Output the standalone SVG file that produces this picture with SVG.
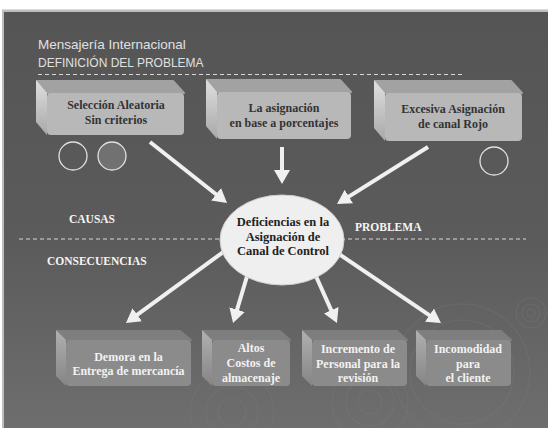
<svg xmlns="http://www.w3.org/2000/svg" width="548" height="428" viewBox="0 0 548 428">
<defs>
<linearGradient id="bg" x1="0" y1="0" x2="0" y2="1">
<stop offset="0" stop-color="#555555"/>
<stop offset="0.55" stop-color="#5b5b5b"/>
<stop offset="1" stop-color="#6e6e6e"/>
</linearGradient>
<linearGradient id="leftT" x1="0" y1="0" x2="0" y2="1">
<stop offset="0" stop-color="#e0e0e0"/>
<stop offset="1" stop-color="#a8a8a8"/>
</linearGradient>
<linearGradient id="leftB" x1="0" y1="0" x2="0" y2="1">
<stop offset="0" stop-color="#b0b0b0"/>
<stop offset="1" stop-color="#858585"/>
</linearGradient>
<marker id="ah" markerUnits="userSpaceOnUse" viewBox="0 0 14 16" markerWidth="14" markerHeight="16" refX="10" refY="8" orient="auto">
<path d="M0,0 L14,8 L0,16 z" fill="#f0f0f0"/>
</marker>
</defs>
<style>
.ttl{font-family:"Liberation Sans",Arial,sans-serif;fill:#e0e0e0}
.lbl{font-family:"Liberation Serif","Times New Roman",serif;font-weight:bold;font-size:11.5px;fill:#f5f5f5}
.tt{font-family:"Liberation Serif","Times New Roman",serif;font-weight:bold;font-size:12px;fill:#333333;text-anchor:middle}
.bt{font-family:"Liberation Serif","Times New Roman",serif;font-weight:bold;font-size:12px;fill:#f2f2f2;text-anchor:middle}
.ct{font-family:"Liberation Serif","Times New Roman",serif;font-weight:bold;font-size:12.5px;fill:#222222;text-anchor:middle}
.dash{stroke:#d8d8d8;stroke-width:1;stroke-dasharray:4 3;fill:none}
.tf{fill:#a2a2a2;stroke:#a2a2a2;stroke-width:2;stroke-linejoin:round}
.lf{fill:url(#leftT);stroke-linejoin:round}
.ff{fill:#b8b8b8}
.tfb{fill:#7e7e7e;stroke:#7e7e7e;stroke-width:2;stroke-linejoin:round}
.lfb{fill:url(#leftB)}
.ffb{fill:#8b8b8b}
.arr{stroke:#f0f0f0;stroke-width:4;fill:none;marker-end:url(#ah)}
.ring{fill:none;stroke:#7c7c7c;stroke-opacity:0.35;stroke-width:1.2}
.circ{fill:none;stroke:#e0e0e0;stroke-width:1.3}
.circf{fill:#717171;stroke:#e0e0e0;stroke-width:1.3}
</style>
<rect x="0" y="0" width="548" height="428" fill="#ffffff"/>
<rect x="2" y="9.5" width="546" height="418.5" fill="#bdbdbd"/>
<rect x="4" y="12" width="544" height="416" fill="url(#bg)"/>
<g id="decor">
<circle class="ring" cx="531" cy="313" r="4"/>
<circle class="ring" cx="531" cy="313" r="9"/>
<circle class="ring" cx="531" cy="313" r="15"/>
<circle class="ring" cx="232" cy="412" r="14"/>
<circle class="ring" cx="232" cy="412" r="26"/>
<circle class="ring" cx="232" cy="412" r="42"/>
<circle class="ring" cx="370" cy="402" r="12"/>
<circle class="ring" cx="370" cy="402" r="24"/>
<circle class="ring" cx="370" cy="402" r="38"/>
<circle class="ring" cx="462" cy="372" r="52"/>
<circle class="ring" cx="462" cy="372" r="68"/>
</g>
<g id="header">
<text class="ttl" x="38" y="49" font-size="13.5">Mensajería Internacional</text>
<text class="ttl" x="38" y="67" font-size="12" fill="#d4d4d4">DEFINICIÓN DEL PROBLEMA</text>
<line class="dash" x1="38" y1="74.5" x2="462" y2="74.5"/>
<line class="dash" x1="19" y1="239" x2="526" y2="239"/>
</g>
<g id="labels">
<text class="lbl" x="69" y="223">CAUSAS</text>
<text class="lbl" x="355" y="231">PROBLEMA</text>
<text class="lbl" x="47" y="265">CONSECUENCIAS</text>
</g>
<g id="circles">
<circle class="circ" cx="73" cy="156" r="14"/>
<circle class="circf" cx="112" cy="156" r="14"/>
<circle class="circ" cx="494" cy="161" r="14"/>
</g>
<g id="connectors">
<line class="arr" x1="150" y1="142" x2="223.9" y2="200.5"/>
<line class="arr" x1="282" y1="147" x2="282" y2="180"/>
<line class="arr" x1="428" y1="147" x2="340.4" y2="201.9"/>
<line class="arr" x1="226" y1="250" x2="129.2" y2="320.6"/>
<line class="arr" x1="248" y1="273" x2="234.2" y2="319.2"/>
<line class="arr" x1="315" y1="274" x2="335.3" y2="319.4"/>
<line class="arr" x1="336" y1="252" x2="437.7" y2="320.8"/>
</g>
<g id="cause1">
<polygon class="tf" points="37,81 173,81 184,93 47,93"/>
<polygon class="lf" points="36,80 47,93 47,135 36,122"/>
<rect class="ff" x="47" y="93" width="137" height="42" rx="4"/>
<text class="tt" x="116" y="109">Selección Aleatoria</text>
<text class="tt" x="116" y="124">Sin criterios</text>
</g>
<g id="cause2">
<polygon class="tf" points="207,80 340,80 351,92 217,92"/>
<polygon class="lf" points="206,79 217,92 217,139 206,126"/>
<rect class="ff" x="217" y="92" width="134" height="47" rx="4"/>
<text class="tt" x="284" y="112">La asignación</text>
<text class="tt" x="284" y="127">en base a porcentajes</text>
</g>
<g id="cause3">
<polygon class="tf" points="375,81 511,81 522,93 385,93"/>
<polygon class="lf" points="374,80 385,93 385,141 374,128"/>
<rect class="ff" x="385" y="93" width="137" height="48" rx="4"/>
<text class="tt" x="453" y="113">Excesiva Asignación</text>
<text class="tt" x="453" y="128">de canal Rojo</text>
</g>
<g id="problem">
<ellipse cx="282" cy="240" rx="62" ry="45" fill="#efefef" stroke="#d0d0d0" stroke-width="1"/>
<text class="ct" x="283" y="226">Deficiencias en la</text>
<text class="ct" x="283" y="241">Asignación de</text>
<text class="ct" x="283" y="255">Canal de Control</text>
</g>
<g id="effect1">
<polygon class="tfb" points="57,331 180,331 191,340 66,340"/>
<polygon class="lfb" points="56,330 66,340 66,386 56,376"/>
<rect class="ffb" x="66" y="340" width="125" height="46" rx="4"/>
<text class="bt" x="128.5" y="361">Demora en la</text>
<text class="bt" x="128.5" y="375">Entrega de mercancía</text>
</g>
<g id="effect2">
<polygon class="tfb" points="203,331 280,331 290,340 212,340"/>
<polygon class="lfb" points="202,330 212,340 212,386 202,376"/>
<rect class="ffb" x="212" y="340" width="78" height="46" rx="4"/>
<text class="bt" x="251" y="352">Altos</text>
<text class="bt" x="251" y="367">Costos de</text>
<text class="bt" x="251" y="382">almacenaje</text>
</g>
<g id="effect3">
<polygon class="tfb" points="303,331 397,331 407,340 312,340"/>
<polygon class="lfb" points="302,330 312,340 312,386 302,376"/>
<rect class="ffb" x="312" y="340" width="95" height="46" rx="4"/>
<text class="bt" x="358" y="353">Incremento de</text>
<text class="bt" x="358" y="368">Personal para la</text>
<text class="bt" x="358" y="382">revisión</text>
</g>
<g id="effect4">
<polygon class="tfb" points="417,331 501,331 511,340 426,340"/>
<polygon class="lfb" points="416,330 426,340 426,386 416,376"/>
<rect class="ffb" x="426" y="340" width="85" height="46" rx="4"/>
<text class="bt" x="468" y="353">Incomodidad</text>
<text class="bt" x="468" y="367.5">para</text>
<text class="bt" x="468" y="382">el  cliente</text>
</g>
</svg>
